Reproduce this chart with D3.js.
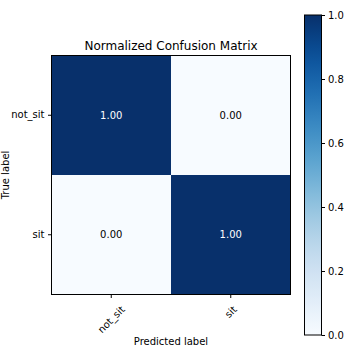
<!DOCTYPE html>
<html><head><meta charset="utf-8">
<script src="https://cdn.jsdelivr.net/npm/d3@7"></script>
<style>body{margin:0;background:#fff}svg{display:block}text{font-family:"DejaVu Sans",sans-serif;fill:#000}</style>
</head><body><svg id="c" width="360" height="360"></svg>
<script>
const classes = ["not_sit", "sit"];
const matrix = [[1.00, 0.00], [0.00, 1.00]];
const cbTicks = [0.0, 0.2, 0.4, 0.6, 0.8, 1.0];
const title = "Normalized Confusion Matrix";

const svg = d3.select("#c");
const L = 51.5, T = 55.5, S = 239;
const x = d3.scaleBand().domain(classes).range([L, L + S]);
const y = d3.scaleBand().domain(classes).range([T, T + S]);
const color = v => d3.interpolateBlues(v);

const cells = [];
matrix.forEach((row, i) => row.forEach((v, j) => cells.push({r: classes[i], c: classes[j], v})));

svg.selectAll("rect.cell").data(cells).enter().append("rect")
  .attr("x", d => x(d.c)).attr("y", d => y(d.r))
  .attr("width", x.bandwidth()).attr("height", y.bandwidth())
  .attr("fill", d => color(d.v));

svg.selectAll("text.val").data(cells).enter().append("text")
  .attr("x", d => x(d.c) + x.bandwidth() / 2).attr("y", d => y(d.r) + y.bandwidth() / 2)
  .attr("text-anchor", "middle").attr("dominant-baseline", "central")
  .attr("font-size", 10).style("fill", d => d.v > 0.5 ? "#fff" : "#000")
  .text(d => d.v.toFixed(2));

svg.append("rect").attr("x", L).attr("y", T).attr("width", S).attr("height", S)
  .attr("fill", "none").attr("stroke", "#000").attr("stroke-width", 1);

const xAxis = svg.append("g").attr("transform", `translate(0,${T + S})`)
  .call(d3.axisBottom(x).tickSize(3.5).tickPadding(3));
xAxis.select(".domain").remove();
xAxis.selectAll("text").attr("font-size", 10).attr("font-family", "DejaVu Sans")
  .attr("text-anchor", "middle").attr("dominant-baseline", "central").attr("dy", null)
  .attr("y", 0)
  .attr("transform", function() {
    const len = this.getComputedTextLength();
    const h = 9;
    const cy = 10 + (len + h) * Math.SQRT1_2 / 2;
    return `translate(0,${cy}) rotate(-45)`;
  });

const yAxis = svg.append("g").attr("transform", `translate(${L},0)`)
  .call(d3.axisLeft(y).tickSize(3.5).tickPadding(3.5));
yAxis.select(".domain").remove();
yAxis.selectAll("text").attr("font-size", 10).attr("font-family", "DejaVu Sans");

svg.append("text").attr("x", L + S / 2).attr("y", 50).attr("text-anchor", "middle")
  .attr("font-size", 12).text(title);
svg.append("text").attr("x", L + S / 2).attr("y", 345).attr("text-anchor", "middle")
  .attr("font-size", 10).text("Predicted label");
svg.append("text").attr("transform", `translate(8.5,${T + S / 2}) rotate(-90)`)
  .attr("text-anchor", "middle").attr("font-size", 10).text("True label");

// colorbar
const cbX = 304.5, cbW = 17, cbT = 15, cbB = 335;
const cy = d3.scaleLinear().domain([0, 1]).range([cbB, cbT]);
const defs = svg.append("defs");
const grad = defs.append("linearGradient").attr("id", "g").attr("x1", 0).attr("y1", 1).attr("x2", 0).attr("y2", 0);
d3.range(0, 1.0001, 0.05).forEach(t => grad.append("stop").attr("offset", t).attr("stop-color", color(t)));
svg.append("rect").attr("x", cbX).attr("y", cbT).attr("width", cbW).attr("height", cbB - cbT)
  .attr("fill", "url(#g)").attr("stroke", "#000").attr("stroke-width", 1);
const cAxis = svg.append("g").attr("transform", `translate(${cbX + cbW},0)`)
  .call(d3.axisRight(cy).tickValues(cbTicks).tickFormat(d3.format(".1f")).tickSize(3.5).tickPadding(3));
cAxis.select(".domain").remove();
cAxis.selectAll("text").attr("font-size", 10).attr("font-family", "DejaVu Sans");
</script></body></html>
